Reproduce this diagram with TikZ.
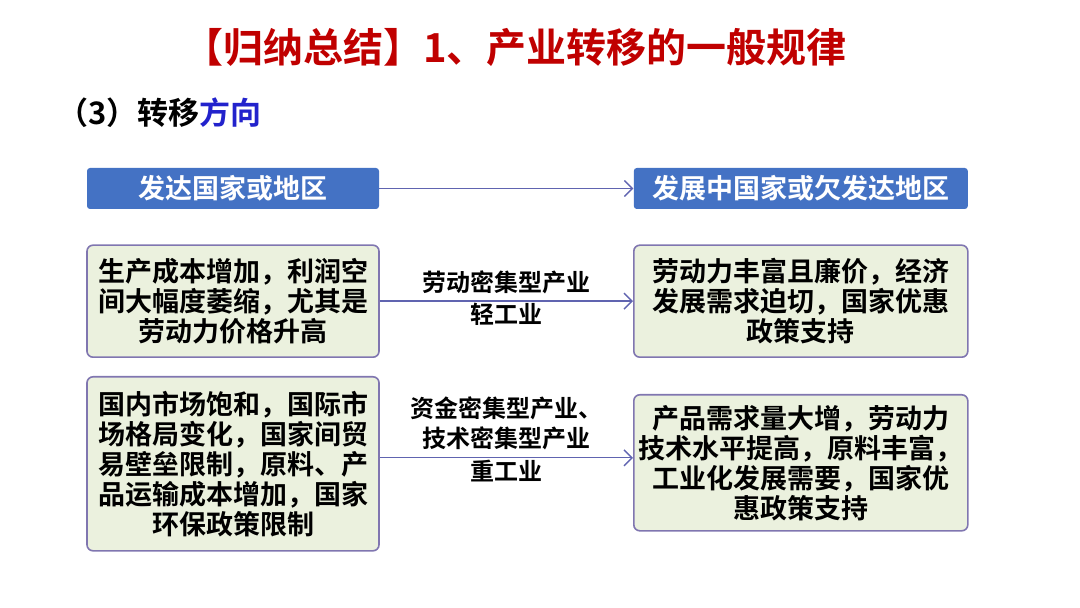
\documentclass[tikz,border=0pt]{standalone}
\usepackage{fontspec}
\setmainfont{Noto Sans CJK SC}[BoldFont={Noto Sans CJK SC Bold}]
\usetikzlibrary{arrows.meta,positioning}
\definecolor{titlered}{RGB}{192,0,0}
\definecolor{subblue}{RGB}{34,34,204}
\definecolor{headblue}{RGB}{68,114,196}
\definecolor{boxgreen}{RGB}{235,241,222}
\definecolor{boxline}{RGB}{128,118,176}
\definecolor{linkline}{RGB}{96,100,176}

\begin{document}
\begin{tikzpicture}[
  x=0.5pt,y=-0.5pt,
  head/.style={fill=headblue,rounded corners=1.5pt,minimum height=20.5pt,text=white,
    font=\fontsize{13.5}{15}\selectfont\bfseries},
  cause/.style={draw=boxline,line width=0.8pt,fill=boxgreen,rounded corners=3pt,align=center,
    inner sep=2pt,font=\fontsize{13.5}{15}\selectfont\bfseries},
  link/.style={draw=linkline,line width=0.7pt,-{Straight Barb[length=4pt,width=8pt]}},
  tag/.style={align=center,font=\fontsize{12}{15}\selectfont\bfseries},
  tagdown/.style={tag,below,yshift=2.5pt}
]
\useasboundingbox (0,0) rectangle (1080,608);

\node[text=titlered,font=\fontsize{20}{23}\selectfont\bfseries] (title) at (515,47)
  {【归纳总结】1、产业转移的一般规律};
\node[anchor=west,font=\fontsize{15.5}{18}\selectfont\bfseries] (sub) at (50,113)
  {（3）转移\textcolor{subblue}{方向}};

\node[head,minimum width=146pt] (src) at (233,188.5) {发达国家或地区};
\node[head,minimum width=167pt,right=127pt of src] (dst) {发展中国家或欠发达地区};
\draw[link] (src) -- (dst);

\node[cause,minimum width=146pt,minimum height=56pt,below=17.5pt of src] (push1)
  {生产成本增加，利润空\\间大幅度萎缩，尤其是\\劳动力价格升高};
\node[cause,minimum width=167pt,minimum height=56pt,below=17.5pt of dst] (pull1)
  {劳动力丰富且廉价，经济\\发展需求迫切，国家优惠\\政策支持};
\draw[link] (push1) -- node[tag,above] {劳动密集型产业} node[tagdown] {轻工业} (pull1);

\node[cause,minimum width=146pt,minimum height=87pt,below=9pt of push1] (push2)
  {国内市场饱和，国际市\\场格局变化，国家间贸\\易壁垒限制，原料、产\\品运输成本增加，国家\\环保政策限制};
\node[cause,minimum width=167pt,minimum height=68pt,below=18pt of pull1] (pull2)
  {产品需求量大增，劳动力\\技术水平提高，原料丰富，\\工业化发展需要，国家优\\惠政策支持};
\draw[link] ([yshift=3pt]push2.east) -- node[tag,above] {资金密集型产业、\\技术密集型产业}
  node[tagdown] {重工业} ([yshift=3pt]push2.east -| pull2.west);
\end{tikzpicture}
\end{document}
